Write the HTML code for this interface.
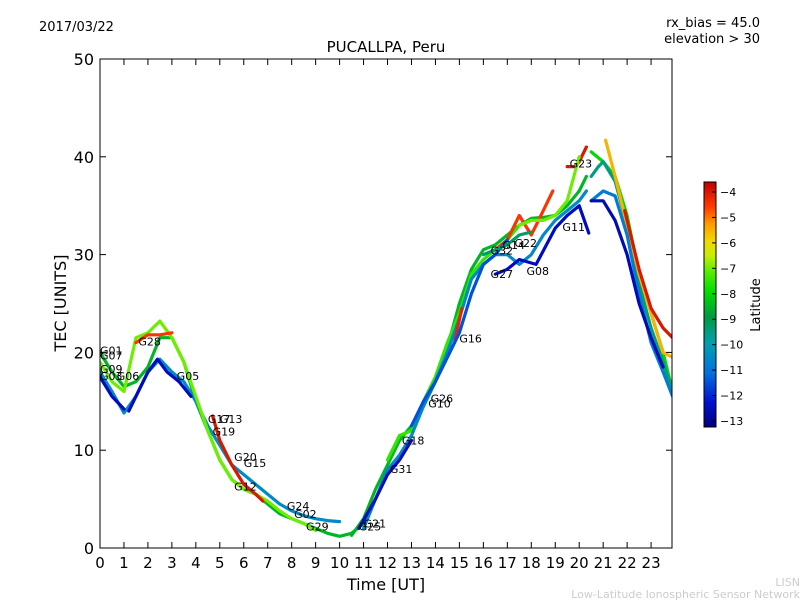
<!DOCTYPE html>
<html><head><meta charset="utf-8"><style>
body{margin:0;background:#fff;font-family:"Liberation Sans","DejaVu Sans",sans-serif;}
svg text{font-family:"DejaVu Sans","Liberation Sans",sans-serif;}
</style></head><body>
<svg id="c" width="800" height="600" xmlns="http://www.w3.org/2000/svg">
<rect width="800" height="600" fill="#fff"/>
<text x="39" y="31" font-size="13">2017/03/22</text>
<text x="760" y="27" font-size="13" text-anchor="end">rx_bias = 45.0</text>
<text x="760" y="43" font-size="13" text-anchor="end">elevation &gt; 30</text>
<text x="386" y="52" font-size="15" text-anchor="middle">PUCALLPA, Peru</text>
<defs><clipPath id="pc"><rect x="100" y="59" width="572" height="489"/></clipPath>
<linearGradient id="cg" x1="0" y1="1" x2="0" y2="0">
<stop offset="0" stop-color="#000080"/><stop offset="0.1" stop-color="#0010d0"/><stop offset="0.22" stop-color="#0070e0"/><stop offset="0.34" stop-color="#00a0b0"/><stop offset="0.45" stop-color="#009a40"/><stop offset="0.55" stop-color="#00dd00"/><stop offset="0.64" stop-color="#60ee00"/><stop offset="0.7" stop-color="#c8ee00"/><stop offset="0.76" stop-color="#f0d800"/><stop offset="0.83" stop-color="#ff9a00"/><stop offset="0.9" stop-color="#ff3a00"/><stop offset="1" stop-color="#c00000"/>
</linearGradient></defs>
<g id="marks" clip-path="url(#pc)"></g>
<g id="labels"></g>
<g id="axes"></g>
<text x="66" y="303" font-size="16" text-anchor="middle" transform="rotate(-90 66 303)">TEC [UNITS]</text>
<text x="386" y="590" font-size="16" text-anchor="middle">Time [UT]</text>
<rect x="704" y="182" width="12" height="245" fill="url(#cg)" stroke="#000" stroke-width="1"/>
<g id="cbticks"></g>
<text x="760" y="305" font-size="13" text-anchor="middle" transform="rotate(-90 760 305)">Latitude</text>
<text x="800" y="586" font-size="11" fill="#ccc" text-anchor="end">LISN</text>
<text x="800" y="598" font-size="11" fill="#ccc" text-anchor="end">Low-Latitude Ionospheric Sensor Network</text>
</svg>
<script>
const xTicks=[0,1,2,3,4,5,6,7,8,9,10,11,12,13,14,15,16,17,18,19,20,21,22,23];
const yTicks=[0,10,20,30,40,50];
const cbTicks=[-4,-5,-6,-7,-8,-9,-10,-11,-12,-13];
const seriesLat=[-8.5,-10.5,-12.5,-12.5,-7,-4.5,-4,-8.5,-7.5,-10.5,-12.5,-12.5,-4,-4.5,-4.2,-8,-9.5,-5.5,-4,-10.8,-12.6,-11.5,-9.3,-7];
const seriesT=[
[0,0.5,1,1.5,2,2.5,3,3.5,4,4.5,5,5.5,6,6.5,7,7.5,8,8.5,9,9.5,10,10.5,11],
[0,0.5,1,1.5,2,2.5,3,3.5,4,4.5,5,5.5,6,6.5,7,7.5,8,8.5,9,9.5,10],
[0,0.5,1],
[1.2,1.6,2,2.4,2.8,3.3,3.8],
[0,0.5,1,1.5,2,2.5,3,3.5,4,4.5,5,5.5,6,6.5,7,7.5,8,8.5,9],
[1.5,2,2.5,3],
[4.7,5,5.5,6,6.5,6.8],
[10.5,11,11.5,12,12.5,13,13.5,14,14.5,15,15.5,16,16.5,17,17.5,18,18.5,19,19.5,20,20.3],
[12,12.5,13,13.5,14,14.5,15,15.5,16,16.5,17,17.5,18],
[11,11.5,12,12.5,13,13.5,14,14.5,15,15.5,16,16.5,17,17.5,18,18.5,19,19.5,20,20.3],
[10.8,11.5,12,12.5,13],
[16.5,17,17.5,18.2,19,19.5,20,20.4],
[19.5,19.8,20,20.3],
[16.5,17,17.5,18,18.5,18.9],
[14.8,15.1],
[20.5,21,21.5,22,22.5,23,23.5,23.9],
[20.5,20.8,21,21.5,22,22.5,23,23.5,23.9],
[21.1,21.5,22,22.5,23,23.5,23.9],
[21.9,22.5,23,23.5,23.9],
[20.5,21,21.5,22,22.5,23,23.5,23.9],
[20.5,21,21.5,22,22.5,23,23.5],
[13,13.5,14,14.5,15,15.5,16,16.5,17],
[16,16.5,17,17.5,18],
[17.5,18,18.5,19,19.5,20]
];
const seriesV=[
[20,18,16.5,17,18.5,21.5,21.5,19,15,12,9,7,6,5.5,4.5,3.5,3,2.5,2,1.5,1.2,1.5,2.5],
[18,16,13.8,15.5,18,19.3,18,17,15,12.5,10.5,8.5,7.5,6.5,5.5,4.5,3.8,3.3,3,2.8,2.7],
[17.5,15.5,14.2],
[14,16,18,19.3,18,17,15.5],
[19,17,16,21.5,22,23.2,21.5,19,15.5,12,9,7,6,5.5,4.8,3.8,3,2.5,1.8],
[21,21.8,21.8,22],
[13.5,11,8.5,6.5,5.5,4.8],
[1.3,3,6,8.5,11,12.5,14.5,17,20.5,25,28.5,30.5,31,32,33,33.7,33.8,34,35,36.5,38],
[9,11.5,12,15,17.5,21,24,28,29.5,30.5,31.5,33,33.5],
[2,5,8,9.5,11.5,14.5,17,20,23.5,27.5,29,30,30,29,30,32,33.5,34.5,35.5,36.5],
[2,5,7.5,9,11],
[28,28.5,29.5,29,32.7,34,35,32.2],
[39,39,39.5,41],
[30.5,31.5,34,32,34.5,36.5],
[21,24.5],
[40.5,39.5,38,34,28,24,20,16],
[38,39,39.5,37.5,33,27,22.5,19,16],
[41.7,38,33,28,24,20,19.5],
[34.5,28.5,24.5,22.5,21.5],
[35.5,36.5,36,32,26,21,18,15.5],
[35.5,35.5,33.5,30,25,21.5,18.5],
[12.5,15,17,19.5,22,26,29,30,31.5],
[30,30.5,31,32,32.3],
[33,33.5,33.5,34,35.5,40]
];
const labelNames=["G01","G07","G09","G03","G06","G28","G05","G17","G13","G19","G20","G15","G12","G24","G02","G29","G21","G25","G31","G18","G10","G26","G16","G32","G14","G22","G27","G08","G11","G23"];
const labelT=[0,0,0,0,0.7,1.6,3.2,4.5,5.0,4.7,5.6,6.0,5.6,7.8,8.1,8.6,11.0,10.8,12.1,12.6,13.7,13.8,15.0,16.3,16.8,17.3,16.3,17.8,19.3,19.6];
const labelV=[20.2,19.7,18.3,17.6,17.6,21.1,17.6,13.2,13.2,11.9,9.3,8.7,6.3,4.3,3.5,2.2,2.5,2.2,8.1,11.0,14.8,15.3,21.4,30.4,31.0,31.2,28.0,28.3,32.8,39.3];
const X=t=>100+t*23.96, Y=v=>548-v*9.78;
const cbY=l=>192+(-4-l)*(421-192)/9;
const NS="http://www.w3.org/2000/svg";
function mk(tag,a,parent){const e=document.createElementNS(NS,tag);for(const k in a)e.setAttribute(k,a[k]);parent.appendChild(e);return e;}
const stops=[[0,[0,0,128]],[0.1,[0,16,208]],[0.22,[0,112,224]],[0.34,[0,160,176]],[0.45,[0,154,64]],[0.55,[0,221,0]],[0.64,[96,238,0]],[0.7,[200,238,0]],[0.76,[240,216,0]],[0.83,[255,154,0]],[0.9,[255,58,0]],[1,[192,0,0]]];
function cmap(l){let f=(427-cbY(l))/245;f=Math.max(0,Math.min(1,f));for(let i=1;i<stops.length;i++){if(f<=stops[i][0]){const a=stops[i-1],b=stops[i];const u=(f-a[0])/(b[0]-a[0]);const c=a[1].map((x,j)=>Math.round(x+(b[1][j]-x)*u));return `rgb(${c})`;}}return 'rgb(192,0,0)';}
const marks=document.getElementById('marks'),labels=document.getElementById('labels'),axes=document.getElementById('axes'),cbt=document.getElementById('cbticks');
seriesT.forEach((ts,i)=>{
 const pts=ts.map((t,j)=>X(t).toFixed(1)+','+Y(seriesV[i][j]).toFixed(1)).join(' ');
 const p=mk('polyline',{points:pts,fill:'none',stroke:cmap(seriesLat[i]),'stroke-width':3.2,'stroke-linejoin':'round','stroke-linecap':'round'},marks);
 
 
});
labelNames.forEach((n,i)=>{
 const t=mk('text',{x:X(labelT[i]),y:Y(labelV[i])+4,'font-size':11},labels);t.textContent=n;
 
 
});
const fr=mk('rect',{x:100,y:59,width:572,height:489,fill:'none',stroke:'#000','stroke-width':1},axes);


xTicks.forEach(t=>{
 mk('line',{x1:X(t),x2:X(t),y1:548,y2:542,stroke:'#000'},axes);mk('line',{x1:X(t),x2:X(t),y1:59,y2:65,stroke:'#000'},axes);
 const tx=mk('text',{x:X(t),y:568,'font-size':15,'text-anchor':'middle'},axes);tx.textContent=t;
 
 
});
yTicks.forEach(v=>{
 mk('line',{x1:100,x2:106,y1:Y(v),y2:Y(v),stroke:'#000'},axes);mk('line',{x1:666,x2:672,y1:Y(v),y2:Y(v),stroke:'#000'},axes);
 const tx=mk('text',{x:94,y:Y(v)+6,'font-size':16,'text-anchor':'end'},axes);tx.textContent=v;
 
 
});
cbTicks.forEach(l=>{
 mk('line',{x1:712,x2:716,y1:cbY(l),y2:cbY(l),stroke:'#000'},cbt);
 const tx=mk('text',{x:720,y:cbY(l)+4,'font-size':11},cbt);tx.textContent='\u2212'+Math.abs(l);
 
 
});
</script>
</body></html>
